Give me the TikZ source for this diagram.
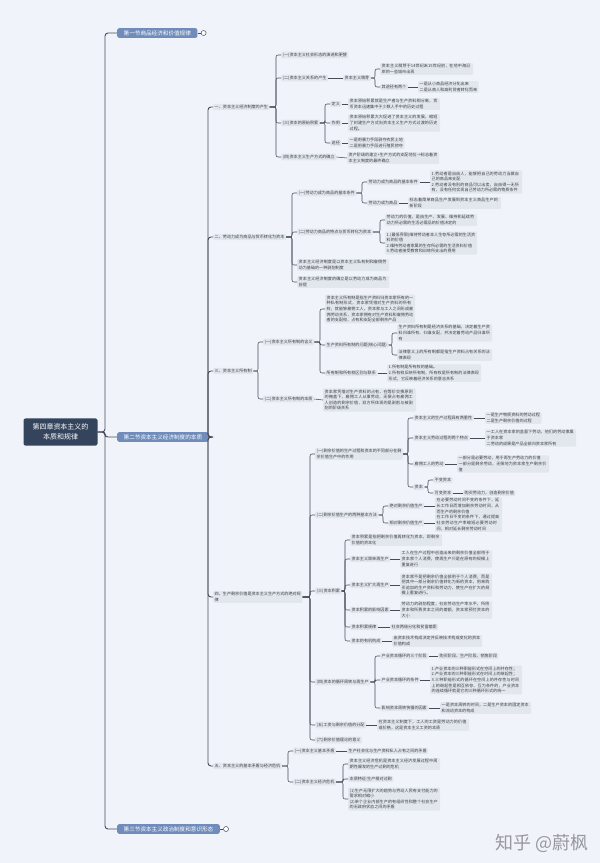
\documentclass[tikz,border=0pt]{standalone}
\usepackage{fontspec}
\setmainfont{Noto Sans CJK SC}
\XeTeXlinebreaklocale "zh"
\XeTeXlinebreakskip = 0pt plus 0.5pt

\definecolor{bgc}{RGB}{240,244,250}
\definecolor{boxc}{RGB}{226,231,238}
\definecolor{txtc}{RGB}{60,62,68}
\definecolor{linec}{RGB}{72,76,86}
\definecolor{secc}{RGB}{112,140,187}
\definecolor{rootc}{RGB}{52,68,92}
\definecolor{wmc}{RGB}{150,152,156}

\newcommand\leaffont{\fontsize{4.1}{5.6}\selectfont}

\tikzset{
  leaf/.style={fill=boxc, text=txtc, font=\leaffont, anchor=west, align=left,
    inner xsep=1.5pt, inner ysep=1.2pt, rounded corners=1pt},
  sect/.style={fill=secc, text=white, font=\fontsize{5.6}{6.6}\selectfont, anchor=west,
    inner xsep=6.5pt, inner ysep=2.2pt, rounded corners=2pt},
  rootbox/.style={fill=rootc, text=white, font=\fontsize{7}{9.5}\selectfont, align=center,
    inner xsep=9pt, inner ysep=5.5pt, rounded corners=2pt},
  link/.style={draw=linec, line width=0.55pt, rounded corners=2pt},
  trunk/.style={link, line width=0.9pt, rounded corners=3pt},
  fold/.style={circle, draw=linec, fill=white, line width=0.5pt, inner sep=0pt, minimum size=5pt},
}

\begin{document}
\begin{tikzpicture}[x=1pt, y=-1pt]
\fill[bgc] (0,0) rectangle (600,863);

% root and sections
\node[rootbox] (r) at (60.5,432) {第四章资本主义的\\本质和规律};
\node[sect] (s1) at (117,33) {第一节商品经济和价值规律};
\node[sect] (s2) at (117,437) {第二节资本主义经济制度的本质};
\node[sect] (s3) at (117,829) {第三节资本主义政治制度和意识形态};
\node[fold] (m1) at ([xshift=6pt]s1.east) {};
\node[fold] (m3) at ([xshift=6pt]s3.east) {};

% parts
\node[leaf] (p1) at (213,107) {一、资本主义经济制度的产生};
\node[leaf] (p2) at (213,237) {二、劳动力成为商品与货币转化为资本};
\node[leaf] (p3) at (213,371) {三、资本主义所有制};
\node[leaf] (p4) at (213,597) {四、生产剩余价值是资本主义生产方式的绝对规\\律};
\node[leaf] (p5) at (213,766) {五、资本主义的基本矛盾与经济危机};

% part one
\node[leaf] (a1) at (281,55) {(一)资本主义社会形态的演进和更替};
\node[leaf] (a2) at (281,78) {(二)资本主义关系的产生};
\node[leaf] (a2a) at (343,78) {资本主义萌芽};
\node[leaf, text width=90pt] (a2a1) at (380,69) {资本主义萌芽于14世纪末15世纪初，在地中海沿岸的一些城市出现};
\node[leaf] (a2a2) at (380,87) {其途径有两个};
\node[leaf] (a2a2a) at (418,87) {一是从小商品经济分化出来\\二是从商人和高利贷者转化而来};
\node[leaf] (a3) at (281,123) {(三)资本的原始积累};
\node[leaf] (a3a) at (330,104) {定义};
\node[leaf] (a3b) at (330,123) {作用};
\node[leaf] (a3c) at (330,143) {途径};
\node[leaf, text width=89pt] (a3a1) at (348,104) {资本原始积累就是生产者与生产资料相分离，货币资本迅速集中于少数人手中的历史过程};
\node[leaf, text width=89pt] (a3b1) at (348,123) {资本原始积累大大促进了资本主义的发展，缩短了封建生产方式向资本主义生产方式过渡的历史过程。};
\node[leaf] (a3c1) at (348,143) {一是用暴力手段剥夺农民土地\\二是用暴力手段进行殖民掠夺};
\node[leaf] (a4) at (281,157) {(四)资本主义生产方式的确立};
\node[leaf, text width=89pt] (a4a) at (347,158) {资产阶级的建立+生产方式的支配地位→标志着资本主义制度的最终确立};

% part two
\node[leaf] (b1) at (297,193) {(一)劳动力成为商品的基本条件};
\node[leaf] (b1a) at (367,182) {劳动力成为商品的基本条件};
\node[leaf, text width=89pt] (b1a1) at (430,182) {1.劳动者是自由人，能够把自己的劳动力当做自己的商品来支配\\2.劳动者没有别的商品可以出卖，自由得一无所有，没有任何实现自己劳动力所必需的物质条件};
\node[leaf] (b1b) at (367,203) {劳动力成为商品};
\node[leaf, text width=90pt] (b1b1) at (408,203) {标志着简单商品生产发展到资本主义商品生产的新阶段};
\node[leaf] (b2) at (297,232) {(二)劳动力商品的特点与货币转化为资本};
\node[leaf, text width=89pt] (b2a) at (385,220) {劳动力的价值，是由生产、发展、维持和延续劳动力所必需的生活必需品的价值决定的};
\node[leaf, text width=89pt] (b2b) at (385,243) {1.(最低界限)维持劳动者本人生存所必需的生活资料的价值\\2.维持劳动者家属的生存所必需的生活资料价值\\3.劳动者接受教育和训练所支出的费用};
\node[leaf, text width=89pt] (b3) at (297,265) {资本主义经济制度是以资本主义私有制和雇佣劳动为基础的一种剥削制度};
\node[leaf, text width=89pt] (b4) at (297,282) {资本主义经济制度的确立是以劳动力成为商品为前提};

% part three
\node[leaf] (c1) at (263,342) {(一)资本主义所有制的含义};
\node[leaf, text width=87pt] (c1a) at (325,309) {资本主义所有制是指生产资料归资本家所有的一种私有制形式，资本家凭借对生产资料的所有权，就能够雇佣工人，资本家与工人之间形成雇佣劳动关系，资本家拥有对生产资料和雇佣劳动者的支配权，占有和支配全部剩余产品};
\node[leaf] (c1b) at (325,345) {生产资料所有制的问题(核心问题)};
\node[leaf, text width=92pt] (c1b1) at (397,333) {生产资料所有制是经济关系的基础，决定着生产资料归谁所有、归谁支配，并决定着劳动产品归谁所有};
\node[leaf, text width=92pt] (c1b2) at (397,355) {法律意义上的所有制都是指生产资料占有关系的法律表现};
\node[leaf] (c1c) at (325,373) {所有制和所有权区别与联系};
\node[leaf, text width=91pt] (c1c1) at (387,373) {1.所有制是所有权的基础。\\2.所有权反映所有制，所有权是所有制的法律表现形式，它反映着经济关系的意志关系};
\node[leaf] (c2) at (263,399) {(二)资本主义所有制的本质};
\node[leaf, text width=90pt] (c2a) at (323,400) {资本家凭借对生产资料的占有，在等价交换原则的掩盖下，雇佣工人从事劳动，无偿占有雇佣工人创造的剩余价值，双方所体现的是剥削与被剥削的阶级关系};

% part four
\node[leaf] (d1) at (315,454) {(一)剩余价值的生产过程和资本的不同部分在剩\\余价值生产中的作用};
\node[leaf] (d1a) at (413,418) {资本主义的生产过程具有两重性};
\node[leaf] (d1a1) at (485,418) {一是生产物质资料的劳动过程\\二是生产剩余价值的过程};
\node[leaf] (d1b) at (413,438) {资本主义劳动过程的两个特点};
\node[leaf, text width=88pt] (d1b1) at (485,438) {一工人在资本家的监督下劳动，他们的劳动隶属于资本家\\二劳动的成果是产品全部归资本家所有};
\node[leaf] (d1c) at (413,464) {雇佣工人的劳动};
\node[leaf, text width=89pt] (d1c1) at (457,464) {一部分是必要劳动，用于再生产劳动力的价值\\一部分是剩余劳动，无偿地为资本家生产剩余价值};
\node[leaf] (d1d) at (413,487) {资本};
\node[leaf] (d1d1) at (433,480) {不变资本};
\node[leaf] (d1d2) at (433,493) {可变资本};
\node[leaf] (d1d2a) at (463,493) {购买劳动力，创造剩余价值};
\node[leaf] (d2) at (315,515) {(二)剩余价值生产的两种基本方法};
\node[leaf] (d2a) at (388,506) {绝对剩余价值生产};
\node[leaf, text width=64pt] (d2a1) at (435,506) {在必要劳动时间不变的条件下，延长工作日而增加剩余劳动时间，从而生产的剩余价值};
\node[leaf] (d2b) at (388,523) {相对剩余价值生产};
\node[leaf, text width=64pt] (d2b1) at (435,523) {在工作日不变的条件下，通过提高社会劳动生产率缩短必要劳动时间，相对延长剩余劳动时间};
\node[leaf] (d3) at (315,591) {(三)资本积累};
\node[leaf, text width=89pt] (d3a) at (350,540) {资本积累是指把剩余价值再转化为资本，即剩余价值的资本化};
\node[leaf] (d3b) at (350,559) {资本主义简单再生产};
\node[leaf, text width=89pt] (d3b1) at (400,559) {工人在生产过程中创造出来的剩余价值全部用于资本家个人消费，使再生产只是在原有的规模上重复进行};
\node[leaf] (d3c) at (350,585) {资本主义扩大再生产};
\node[leaf, text width=89pt] (d3c1) at (400,585) {资本家不是把剩余价值全部用于个人消费，而是把其中一部分剩余价值转化为新的资本，用来购买追加的生产资料和劳动力，使生产在扩大的规模上重复进行。};
\node[leaf] (d3d) at (350,610) {资本积累的影响因素};
\node[leaf, text width=89pt] (d3d1) at (400,610) {劳动力的剥削程度，社会劳动生产率水平，所用资本和所费资本之间的差额，资本家预付资本的大小};
\node[leaf] (d3e) at (350,627) {资本积累规律};
\node[leaf] (d3e1) at (390,627) {社会两极分化和贫富差距};
\node[leaf] (d3f) at (350,641) {资本的有机构成};
\node[leaf, text width=87pt] (d3f1) at (392,641) {由资本技术构成决定并反映技术构成变化的资本价值构成};
\node[leaf] (d4) at (315,682) {(四)资本的循环周转与再生产};
\node[leaf] (d4a) at (380,656) {产业资本循环的三个阶段};
\node[leaf] (d4a1) at (438,656) {购买阶段、生产阶段、销售阶段};
\node[leaf] (d4b) at (380,680) {产业资本循环的条件};
\node[leaf, text width=89pt] (d4b1) at (430,680) {1.产业资本的三种职能形式在空间上的并存性；\\2.产业资本的三种职能形式在时间上的继起性；\\3.三种职能形式的循环在空间上的并存性与时间上的继起性是相互依存、互为条件的，产业资本的连续循环就是它的三种循环形式的统一};
\node[leaf] (d4c) at (380,708) {影响资本周转快慢的因素};
\node[leaf, text width=88pt] (d4c1) at (440,708) {一是资本周转的时间，二是生产资本的固定资本和流动资本的构成};
\node[leaf] (d5) at (315,725) {(五)工资与剩余价值的分配};
\node[leaf, text width=89pt] (d5a) at (377,725) {在资本主义制度下，工人的工资是劳动力的价值或价格，这是资本主义工资的本质};
\node[leaf] (d6) at (315,740) {(六)剩余价值理论的意义};

% part five
\node[leaf] (e1) at (293,751) {(一)资本主义基本矛盾};
\node[leaf] (e1a) at (347,751) {生产社会化与生产资料私人占有之间的矛盾};
\node[leaf] (e2) at (293,782) {(二)资本主义经济危机};
\node[leaf, text width=89pt] (e2a) at (348,764) {资本主义经济危机是资本主义经济发展过程中周期性爆发的生产过剩的危机};
\node[leaf] (e2b) at (348,779) {本质特征:生产相对过剩};
\node[leaf, text width=89pt] (e2c) at (348,799) {(1)生产无限扩大的趋势与劳动人民有支付能力的需求相对缩小\\(2)单个企业内部生产的有组织性和整个社会生产的无政府状态之间的矛盾};

% connectors
\foreach \c in {s1,s2,s3}
  \draw[trunk] (r.east) -| ([xshift=-12pt]\c.west) -- (\c.west);
\draw[link] (s1.east) -- (m1);
\draw[link] (s3.east) -- (m3);
\foreach \c in {p1,p2,p3,p4,p5}
  \draw[trunk] (s2.east) -| ([xshift=-5pt]\c.west) -- (\c.west);

\foreach \c in {a1,a2,a3,a4}
  \draw[link] (p1.east) -| ([xshift=-5pt]\c.west) -- (\c.west);
\draw[link] (a2.east) -- (a2a.west);
\foreach \c in {a2a1,a2a2}
  \draw[link] (a2a.east) -| ([xshift=-5pt]\c.west) -- (\c.west);
\draw[link] (a2a2.east) -- (a2a2a.west);
\foreach \c in {a3a,a3b,a3c}
  \draw[link] (a3.east) -| ([xshift=-5pt]\c.west) -- (\c.west);
\draw[link] (a3a.east) -- (a3a1.west);
\draw[link] (a3b.east) -- (a3b1.west);
\draw[link] (a3c.east) -- (a3c1.west);
\draw[link] (a4.east) -- (a4a.west);

\foreach \c in {b1,b2,b3,b4}
  \draw[link] (p2.east) -| ([xshift=-5pt]\c.west) -- (\c.west);
\foreach \c in {b1a,b1b}
  \draw[link] (b1.east) -| ([xshift=-5pt]\c.west) -- (\c.west);
\draw[link] (b1a.east) -- (b1a1.west);
\draw[link] (b1b.east) -- (b1b1.west);
\foreach \c in {b2a,b2b}
  \draw[link] (b2.east) -| ([xshift=-5pt]\c.west) -- (\c.west);

\foreach \c in {c1,c2}
  \draw[link] (p3.east) -| ([xshift=-5pt]\c.west) -- (\c.west);
\foreach \c in {c1a,c1b,c1c}
  \draw[link] (c1.east) -| ([xshift=-5pt]\c.west) -- (\c.west);
\foreach \c in {c1b1,c1b2}
  \draw[link] (c1b.east) -| ([xshift=-5pt]\c.west) -- (\c.west);
\draw[link] (c1c.east) -- (c1c1.west);
\draw[link] (c2.east) -- (c2a.west);

\foreach \c in {d1,d2,d3,d4,d5,d6}
  \draw[link] (p4.east) -| ([xshift=-5pt]\c.west) -- (\c.west);
\foreach \c in {d1a,d1b,d1c,d1d}
  \draw[link] (d1.east) -| ([xshift=-5pt]\c.west) -- (\c.west);
\draw[link] (d1a.east) -- (d1a1.west);
\draw[link] (d1b.east) -- (d1b1.west);
\draw[link] (d1c.east) -- (d1c1.west);
\foreach \c in {d1d1,d1d2}
  \draw[link] (d1d.east) -| ([xshift=-5pt]\c.west) -- (\c.west);
\draw[link] (d1d2.east) -- (d1d2a.west);
\foreach \c in {d2a,d2b}
  \draw[link] (d2.east) -| ([xshift=-5pt]\c.west) -- (\c.west);
\draw[link] (d2a.east) -- (d2a1.west);
\draw[link] (d2b.east) -- (d2b1.west);
\foreach \c in {d3a,d3b,d3c,d3d,d3e,d3f}
  \draw[link] (d3.east) -| ([xshift=-5pt]\c.west) -- (\c.west);
\draw[link] (d3b.east) -- (d3b1.west);
\draw[link] (d3c.east) -- (d3c1.west);
\draw[link] (d3d.east) -- (d3d1.west);
\draw[link] (d3e.east) -- (d3e1.west);
\draw[link] (d3f.east) -- (d3f1.west);
\foreach \c in {d4a,d4b,d4c}
  \draw[link] (d4.east) -| ([xshift=-5pt]\c.west) -- (\c.west);
\draw[link] (d4a.east) -- (d4a1.west);
\draw[link] (d4b.east) -- (d4b1.west);
\draw[link] (d4c.east) -- (d4c1.west);
\draw[link] (d5.east) -- (d5a.west);

\foreach \c in {e1,e2}
  \draw[link] (p5.east) -| ([xshift=-5pt]\c.west) -- (\c.west);
\draw[link] (e1.east) -- (e1a.west);
\foreach \c in {e2a,e2b,e2c}
  \draw[link] (e2.east) -| ([xshift=-5pt]\c.west) -- (\c.west);

% watermark
\node[text=wmc, font=\fontsize{18}{18}\selectfont, anchor=east] (wm) at (592,843) {知乎 @蔚枫};
\end{tikzpicture}
\end{document}
